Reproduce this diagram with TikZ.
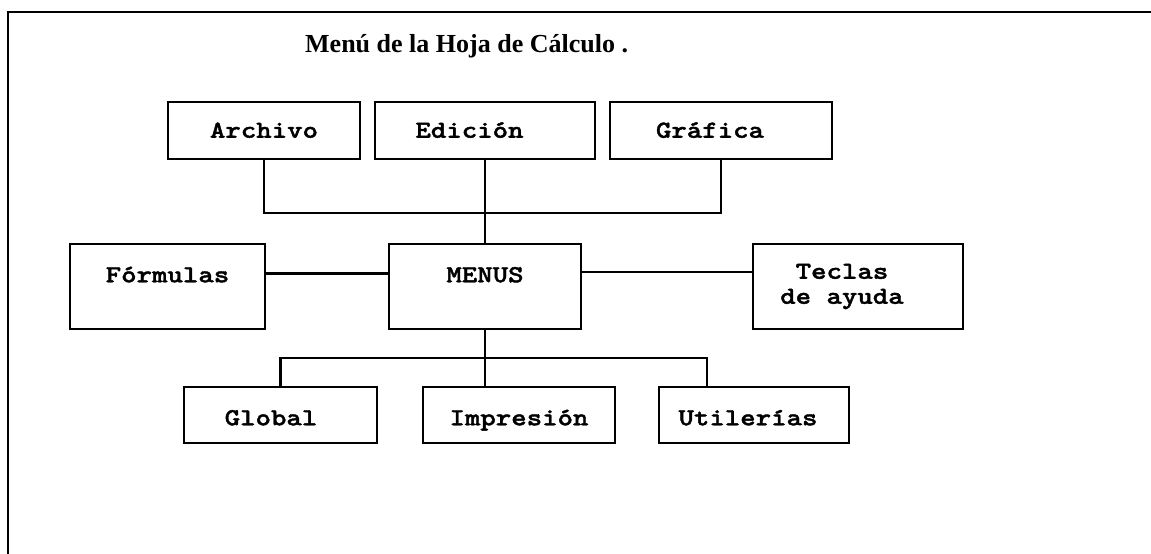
\documentclass[tikz,border=0pt]{standalone}
\usepackage{fontspec}
\setmainfont{Liberation Serif}
\newfontfamily\boxfont{lmmono10-regular}[Extension=.otf, BoldFont=lmmonolt10-bold, FakeStretch=1.2, FakeBold=1.6]
\begin{document}
\begin{tikzpicture}[x=1pt,y=-1pt,
  box/.style={draw, line width=2.6pt, inner sep=0pt, anchor=center,
    font=\boxfont\bfseries\fontsize{24.5}{25}\selectfont},
  sbox/.style={box, text height=14.5pt, text depth=0pt},
  toprow/.style={sbox, minimum height=57pt},
  midrow/.style={sbox, minimum height=85pt},
  botrow/.style={sbox, minimum height=56pt},
  conn/.style={line width=2.2pt},
  framepen/.style={line width=2.8pt},
  titlefont/.style={font=\bfseries\fontsize{26}{30}\selectfont}]
\useasboundingbox (0,0) rectangle (1151,554);
% frame
\coordinate (fbl) at (8,554);
\coordinate (ftl) at (8,12);
\coordinate (ftr) at (1151,12);
\draw[framepen] (fbl) -- (ftl) -- (ftr);
% title
\node[titlefont, anchor=base west, inner sep=0pt] (title) at (305,52) {Menú de la Hoja de Cálculo .};
% top row
\node[toprow, minimum width=192pt] (archivo) at (264,130.5) {Archivo};
\node[toprow, minimum width=220pt] (edicion) at (485,130.5) {Edición\hspace*{31pt}};
\node[toprow, minimum width=222pt] (grafica) at (721,130.5) {Gráfica\hspace*{22pt}};
% middle row
\node[midrow, minimum width=195pt] (formulas) at (167.5,286.5) {\raisebox{11.5pt}{Fórmulas}};
\node[midrow, minimum width=192pt] (menus) at (485,286.5) {\raisebox{11.5pt}{MENUS}};
\node[box, minimum width=210pt, minimum height=85pt, align=center] (teclas) at (858,286.5)
  {Teclas\hspace*{32pt}\\de ayuda\hspace*{32pt}};
% bottom row
\node[botrow, minimum width=193pt] (global) at (280.5,415) {\raisebox{-3pt}{Global}\hspace*{19pt}};
\node[botrow, minimum width=192pt] (impresion) at (519,415) {\raisebox{-3pt}{Impresión}};
\node[botrow, minimum width=190pt] (utilerias) at (754,415) {\raisebox{-3pt}{Utilerías}\hspace*{12pt}};
% connectors
\coordinate (topbus) at (0,213);
\draw[conn] (archivo.south) -- (archivo.south |- topbus) -| (grafica.south);
\draw[conn] (edicion.south) -- (menus.north);
\draw[conn] ([yshift=13pt]formulas.east) -- ([yshift=13pt]menus.west);
\draw[conn] ([yshift=14.5pt]menus.east) -- ([yshift=14.5pt]teclas.west);
\coordinate (busR) at (707,358);
\draw[conn] (global.north) -- (global.north |- busR) -- (busR) -- (busR |- utilerias.north);
\draw[conn] (menus.south) -- (menus.south |- impresion.north);
\end{tikzpicture}
\end{document}
